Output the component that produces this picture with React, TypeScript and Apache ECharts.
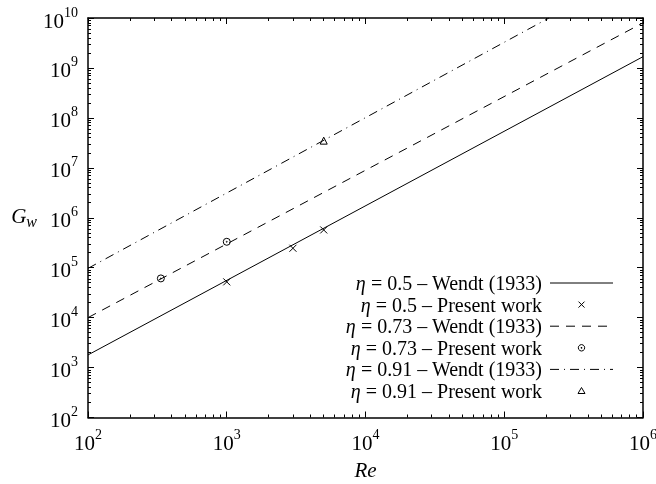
import { useEffect, useRef } from 'react';
import * as echarts from 'echarts';

const FONT = 'Liberation Serif';
const FS = 21;
const LEG_FS = 20;

// Axis ranges and tick values
const X_MAJOR = [1e2, 1e3, 1e4, 1e5, 1e6];
const Y_MAJOR = [1e2, 1e3, 1e4, 1e5, 1e6, 1e7, 1e8, 1e9, 1e10];
const MINOR_MULTS = [2, 3, 4, 5, 6, 7, 8, 9];

// Wendt (1933) correlation lines: endpoints
const WENDT_05_RE = [1e2, 1e6];
const WENDT_05_G = [1.79e3, 1.68e9];
const WENDT_073_RE = [1e2, 1e6];
const WENDT_073_G = [1.0e4, 8.0e9];
const WENDT_091_RE = [1e2, 2.1e5];
const WENDT_091_G = [9.7e4, 1.0e10];

// Present work points
const PW_05_RE = [1000, 3000, 5000];
const PW_05_G = [5.2e4, 2.45e5, 5.7e5];
const PW_073_RE = [335, 1000];
const PW_073_G = [6.1e4, 3.3e5];
const PW_091_RE = [5000];
const PW_091_G = [3.5e7];

const LEGEND_LABELS = [
  '{i|η}{n| = 0.5 – Wendt (1933)}',
  '{i|η}{n| = 0.5 – Present work}',
  '{i|η}{n| = 0.73 – Wendt (1933)}',
  '{i|η}{n| = 0.73 – Present work}',
  '{i|η}{n| = 0.91 – Wendt (1933)}',
  '{i|η}{n| = 0.91 – Present work}',
];

const minorOf = (majors: number[]) => {
  const out: number[] = [];
  for (let k = 0; k < majors.length - 1; k++) {
    for (const m of MINOR_MULTS) out.push(majors[k] * m);
  }
  return out;
};

const zip = (xs: number[], ys: number[]) => xs.map((x, i) => [x, ys[i]]);

const CROSS = 'path://M0,0L10,10M10,0L0,10';
const DOT_CIRCLE =
  'path://M10,5A5,5 0 1 1 0,5A5,5 0 1 1 10,5ZM5.7,5A0.7,0.7 0 1 1 4.3,5A0.7,0.7 0 1 1 5.7,5Z';

const supRich = {
  b: { fontSize: FS, fontFamily: FONT, color: '#000', lineHeight: 26, verticalAlign: 'bottom' },
  s: { fontSize: 14, fontFamily: FONT, color: '#000', lineHeight: 11, verticalAlign: 'top' },
};
const supFmt = (v: number) => `{b|10}{s|${Math.round(Math.log10(v))}}`;

const BLACK = '#000';

function makeAxes(kind: 'x' | 'y', majors: number[], min: number, max: number) {
  const minors = minorOf(majors);
  const mainPos = kind === 'x' ? 'bottom' : 'left';
  const mirrorPos = kind === 'x' ? 'top' : 'right';
  const base = {
    type: 'log' as const,
    logBase: 10,
    min,
    max,
    splitLine: { show: false },
    minorTick: { show: false },
  };
  return [
    {
      ...base,
      position: mainPos,
      axisLine: { show: true, lineStyle: { color: BLACK, width: 1.5 } },
      axisTick: { show: true, inside: true, length: 6, customValues: majors, lineStyle: { color: BLACK, width: 1 } },
      axisLabel: {
        show: true,
        customValues: majors,
        formatter: supFmt,
        rich: supRich,
        margin: 10,
        color: BLACK,
        fontFamily: FONT,
        fontSize: FS,
      },
      ...(kind === 'x'
        ? {
            name: '{r|Re}',
            nameLocation: 'middle',
            nameGap: 42,
            nameTextStyle: { fontFamily: FONT, fontSize: FS, rich: { r: { fontSize: FS, fontStyle: 'italic', fontFamily: FONT, color: BLACK } } },
          }
        : {
            name: '{g|G}{w|w}',
            nameLocation: 'middle',
            nameRotate: 0,
            nameGap: 51,
            nameMoveOverlap: false,
            nameTextStyle: {
              align: 'right',
              fontFamily: FONT,
              fontSize: FS,
              rich: {
                g: { fontSize: FS, fontStyle: 'italic', fontFamily: FONT, color: BLACK, lineHeight: 24, verticalAlign: 'top' },
                w: { fontSize: 16, fontStyle: 'italic', fontFamily: FONT, color: BLACK, lineHeight: 16, verticalAlign: 'bottom' },
              },
            },
          }),
    },
    {
      ...base,
      position: mainPos,
      axisLine: { show: false },
      axisTick: { show: true, inside: true, length: 3, customValues: minors, lineStyle: { color: BLACK, width: 1 } },
      axisLabel: { show: false },
    },
    {
      ...base,
      position: mirrorPos,
      axisLine: { show: true, lineStyle: { color: BLACK, width: 1.5 } },
      axisTick: { show: true, inside: true, length: 6, customValues: majors, lineStyle: { color: BLACK, width: 1 } },
      axisLabel: { show: false },
    },
    {
      ...base,
      position: mirrorPos,
      axisLine: { show: false },
      axisTick: { show: true, inside: true, length: 3, customValues: minors, lineStyle: { color: BLACK, width: 1 } },
      axisLabel: { show: false },
    },
  ];
}

const LEG_TEXT_X = 542;
const LEG_SAMPLE_X1 = 550;
const LEG_SAMPLE_X2 = 613;
const LEG_Y0 = 283;
const LEG_DY = 21.6;

function legendGraphics() {
  const g: any[] = [];
  LEGEND_LABELS.forEach((t, i) => {
    const y = LEG_Y0 + i * LEG_DY;
    g.push({
      type: 'text',
      x: LEG_TEXT_X,
      y,
      style: {
        text: t,
        fill: BLACK,
        align: 'right',
        verticalAlign: 'middle',
        rich: {
          i: { fontStyle: 'italic', fontSize: LEG_FS, fontFamily: FONT },
          n: { fontSize: LEG_FS, fontFamily: FONT },
        },
      },
    });
  });
  const lineDashes: (number[] | null)[] = [null, [9, 7], [9, 5, 1, 5]];
  [0, 2, 4].forEach((row, k) => {
    const y = LEG_Y0 + row * LEG_DY;
    g.push({
      type: 'line',
      shape: { x1: LEG_SAMPLE_X1, y1: y, x2: LEG_SAMPLE_X2, y2: y },
      style: { stroke: BLACK, lineWidth: 1, lineDash: lineDashes[k] || undefined },
    });
  });
  const cx = 581.5;
  const s = 3;
  const y1 = LEG_Y0 + 1 * LEG_DY;
  g.push({ type: 'line', shape: { x1: cx - s, y1: y1 - s, x2: cx + s, y2: y1 + s }, style: { stroke: BLACK, lineWidth: 1 } });
  g.push({ type: 'line', shape: { x1: cx - s, y1: y1 + s, x2: cx + s, y2: y1 - s }, style: { stroke: BLACK, lineWidth: 1 } });
  const y3 = LEG_Y0 + 3 * LEG_DY;
  g.push({ type: 'circle', shape: { cx, cy: y3, r: 3.2 }, style: { stroke: BLACK, fill: 'none', lineWidth: 1 } });
  g.push({ type: 'circle', shape: { cx, cy: y3, r: 0.8 }, style: { fill: BLACK } });
  const y5 = LEG_Y0 + 5 * LEG_DY;
  g.push({
    type: 'polygon',
    shape: { points: [[cx, y5 - 3.5], [cx + 3.5, y5 + 2.5], [cx - 3.5, y5 + 2.5]] },
    style: { stroke: BLACK, fill: 'none', lineWidth: 1 },
  });
  return g;
}

export default function App() {
  const ref = useRef<HTMLDivElement>(null);
  useEffect(() => {
    const chart = echarts.init(ref.current!, null, { renderer: 'svg' });
    const lineBase = { type: 'line', xAxisIndex: 0, yAxisIndex: 0, showSymbol: false, symbol: 'none', silent: true };
    const scatterBase = {
      type: 'scatter',
      xAxisIndex: 0,
      yAxisIndex: 0,
      symbolSize: 7,
      silent: true,
      itemStyle: { color: 'transparent', borderColor: BLACK, borderWidth: 1, opacity: 1 },
    };
    chart.setOption({
      animation: false,
      grid: { left: 88, right: 13, top: 18, bottom: 66.5, containLabel: false, outerBoundsMode: 'none' },
      xAxis: makeAxes('x', X_MAJOR, 1e2, 1e6),
      yAxis: makeAxes('y', Y_MAJOR, 1e2, 1e10),
      series: [
        { ...lineBase, name: 'η = 0.5 – Wendt (1933)', data: zip(WENDT_05_RE, WENDT_05_G), lineStyle: { color: BLACK, width: 1, type: 'solid' } },
        { ...lineBase, name: 'η = 0.73 – Wendt (1933)', data: zip(WENDT_073_RE, WENDT_073_G), lineStyle: { color: BLACK, width: 1, type: [9, 7] } },
        { ...lineBase, name: 'η = 0.91 – Wendt (1933)', data: zip(WENDT_091_RE, WENDT_091_G), lineStyle: { color: BLACK, width: 1, type: [9, 5, 1, 5] } },
        { ...scatterBase, name: 'η = 0.5 – Present work', symbol: CROSS, data: zip(PW_05_RE, PW_05_G) },
        { ...scatterBase, name: 'η = 0.73 – Present work', symbol: DOT_CIRCLE, data: zip(PW_073_RE, PW_073_G) },
        { ...scatterBase, name: 'η = 0.91 – Present work', symbol: 'triangle', data: zip(PW_091_RE, PW_091_G) },
      ],
      graphic: legendGraphics(),
    });
    return () => chart.dispose();
  }, []);
  return <div ref={ref} style={{ position: 'fixed', left: 0, top: 0, width: 656, height: 484 }} />;
}
